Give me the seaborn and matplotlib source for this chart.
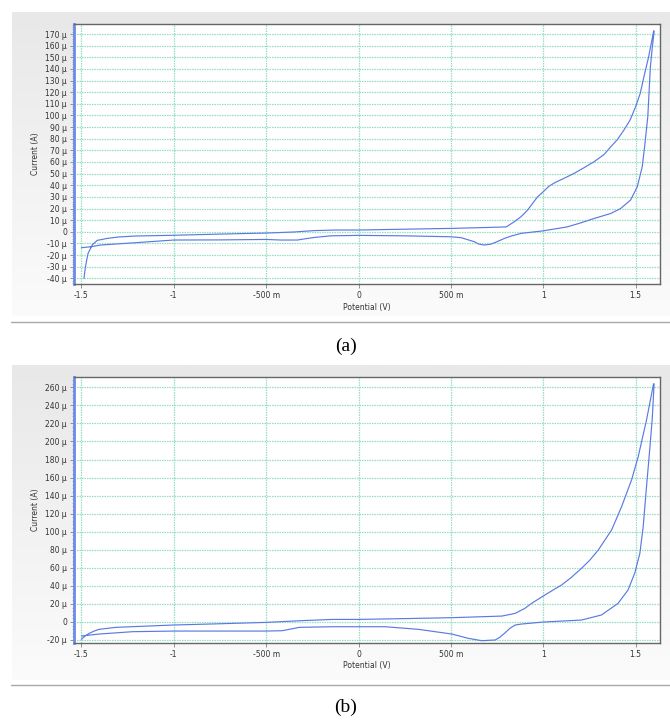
import numpy as np
import pandas as pd
import seaborn as sns
import matplotlib.pyplot as plt
from matplotlib.lines import Line2D
from matplotlib.ticker import AutoMinorLocator

# ---- data (V, uA) ----
# (a) forward scan -1.5 -> 1.6 V, then reverse scan back to -1.5 V
pot_a = [-1.486, -1.478, -1.464, -1.44, -1.414, -1.36, -1.3, -1.216, -1.0, -0.75, -0.5, -0.35,
         -0.24, -0.126, 0.0, 0.25, 0.5, 0.7, 0.8, 0.843, 0.88, 0.915, 0.969, 1.0, 1.03, 1.061,
         1.12, 1.167, 1.22, 1.275, 1.33, 1.365, 1.4, 1.437, 1.47, 1.5, 1.525, 1.545, 1.57, 1.598,
         1.60,
         1.59, 1.58, 1.566, 1.55, 1.536, 1.509, 1.473, 1.419, 1.365, 1.275, 1.2, 1.13, 1.0,
         0.88, 0.83, 0.79, 0.75, 0.718, 0.68, 0.65, 0.628, 0.556, 0.5, 0.25, 0.0, -0.15, -0.24,
         -0.3, -0.33, -0.42, -0.5, -0.75, -1.0, -1.216, -1.396, -1.45, -1.5]
cur_a = [-40, -30, -18.6, -11, -7.4, -5.7, -4.5, -3.7, -3.0, -2.0, -1.1, -0.2,
         1.0, 1.5, 1.5, 2.2, 2.9, 3.7, 4.2, 8.6, 13, 18.6, 30, 34.4, 39, 42.1,
         46.5, 50.2, 55, 60.2, 66.5, 73, 79, 87.5, 96, 107.5, 119, 133.3, 150, 172.8,
         172,
         158, 142, 99, 75, 56, 38.7, 27.3, 20, 15.7, 11.4, 7.5, 4.2, 0.8,
         -1.4, -3.5, -5.7, -8.5, -10.6, -11.4, -10.5, -8.6, -5.1, -4.3, -3.5, -3.1, -3.5, -4.9,
         -6.3, -7.1, -7.1, -6.6, -7.0, -7.1, -9.5, -11.4, -12.9, -13.7]

# (b)
pot_b = [-1.5, -1.48, -1.458, -1.43, -1.404, -1.314, -1.133, -1.0, -0.75, -0.5, -0.3, -0.142,
         0.0, 0.25, 0.5, 0.776, 0.848, 0.9, 0.937, 1.0, 1.05, 1.099, 1.15, 1.207, 1.25, 1.298,
         1.37, 1.424, 1.478, 1.514, 1.559, 1.597, 1.60,
         1.59, 1.578, 1.559, 1.541, 1.523, 1.495, 1.459, 1.405, 1.315, 1.207, 1.0, 0.883,
         0.848, 0.82, 0.794, 0.765, 0.74, 0.668, 0.595, 0.505, 0.325, 0.144, 0.0, -0.142,
         -0.32, -0.413, -0.5, -1.0, -1.223, -1.404, -1.5]
cur_b = [-19.3, -15.5, -12.7, -10, -8.2, -6.0, -4.5, -3.4, -2.0, -0.5, 1.5, 2.8,
         2.8, 3.7, 4.7, 6.5, 9.5, 15, 20.6, 28.7, 35, 40.9, 49, 59.4, 68, 79.7,
         101.9, 127.7, 157.3, 183.1, 223.8, 263.7, 264,
         225, 195, 149.9, 105.6, 76, 53.9, 35.4, 20.6, 7.7, 2.1, -0.1, -2.3,
         -3.4, -7, -11.9, -17, -20, -20.8, -18.2, -13.4, -8.2, -5.3, -5.3, -5.3,
         -6, -9.7, -10.1, -10.1, -10.8, -13.4, -15.6]

x_ticks = [-1.5, -1, -0.5, 0, 0.5, 1, 1.5]
x_labels = ["-1.5", "-1", "-500 m", "0", "500 m", "1", "1.5"]
y_ticks_a = list(range(-40, 171, 10))
y_ticks_b = list(range(-20, 261, 20))

sns.set_theme(style="white")
plt.rcParams['font.family'] = ['DejaVu Sans']

fig = plt.figure(figsize=(6.7, 7.2), dpi=100)
W, H = 670, 720

def px(x0, y0, x1, y1):
    # pixel box -> figure fraction rect
    return [x0 / W, 1 - y1 / H, (x1 - x0) / W, (y1 - y0) / H]

grad = np.linspace(0, 1, 256).reshape(-1, 1)

def panel(bg_box, ax_box, pot, cur, yticks, ylim, sep_y, cap, cap_y):
    bg = fig.add_axes(px(*bg_box))
    bg.imshow(grad, aspect='auto', cmap=sns.blend_palette(["#e8e8e8", "#fbfbfb"], as_cmap=True),
              extent=[0, 1, 0, 1])
    bg.axis('off')

    ax = fig.add_axes(px(*ax_box))
    ax.set_facecolor('white')
    df = pd.DataFrame({'Potential': pot, 'Current': cur})
    sns.lineplot(data=df, x='Potential', y='Current', sort=False, estimator=None,
                 color='#5a7ae2', linewidth=0.85, ax=ax)
    ax.set_xlim(-1.54, 1.632)
    ax.set_ylim(*ylim)
    ax.set_xticks(x_ticks)
    ax.set_xticklabels(x_labels)
    ax.set_yticks(yticks)
    ax.set_yticklabels([("0" if v == 0 else f"{v} µ") for v in yticks])
    ax.yaxis.set_minor_locator(AutoMinorLocator(5))
    ax.tick_params(axis='both', which='major', labelsize=5.5, colors='#808080',
                   labelcolor='#333333', length=3, width=0.6, direction='out', pad=2,
                   left=True, bottom=True)
    ax.tick_params(axis='y', which='minor', length=1.5, width=0.5, colors='#a0a0a0', left=True)
    ax.grid(True, which='major', color='#95dec0', linestyle=(0, (1.2, 0.8)), linewidth=0.9)
    for s in ['top', 'right', 'bottom']:
        ax.spines[s].set_color('#666666')
        ax.spines[s].set_linewidth(1.0)
    ax.spines['left'].set_color('#6a8ce8')
    ax.spines['left'].set_linewidth(2.0)
    ax.set_xlabel('Potential (V)', fontsize=5.5, color='#333333', labelpad=2)
    ax.set_ylabel('Current (A)', fontsize=5.5, color='#333333', labelpad=4)

    fig.add_artist(Line2D([11 / W, 1], [1 - sep_y / H, 1 - sep_y / H],
                          transform=fig.transFigure, color='#a8a8a8', linewidth=1.0))
    fig.text(346 / W, 1 - cap_y / H, cap, ha='center', va='center', fontsize=14,
             family=['Liberation Serif', 'DejaVu Serif'], color='black')
    return ax

panel((12, 12, 670, 316), (74, 24, 660, 284), pot_a, cur_a, y_ticks_a, (-44.9, 178.6),
      321.5, "(a)", 346)
panel((12, 365, 670, 680), (74, 377.3, 660, 642.7), pot_b, cur_b, y_ticks_b, (-23, 271.1),
      685, "(b)", 707)

fig.savefig("out.png", dpi=100)
